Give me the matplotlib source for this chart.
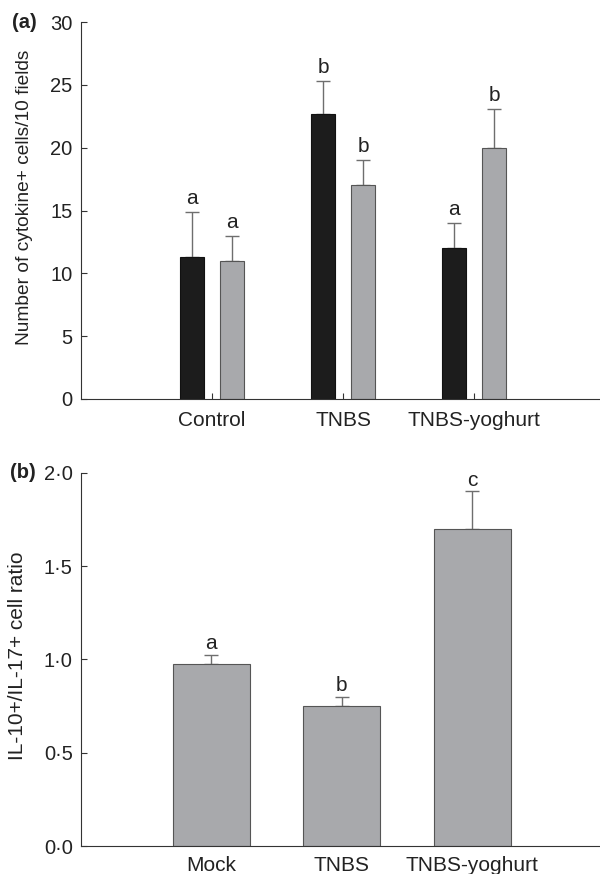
import matplotlib.pyplot as plt
import numpy as np

plt.rcParams["font.family"] = ["Liberation Sans", "DejaVu Sans"]

# panel (a)
groups_a = ["Control", "TNBS", "TNBS-yoghurt"]
dark_vals = [11.3, 22.7, 12.0]
dark_err = [3.6, 2.6, 2.0]
light_vals = [11.0, 17.0, 20.0]
light_err = [2.0, 2.0, 3.1]
dark_letters = ["a", "b", "a"]
light_letters = ["a", "b", "b"]

# panel (b)
groups_b = ["Mock", "TNBS", "TNBS-yoghurt"]
ratio_vals = [0.975, 0.75, 1.70]
ratio_err = [0.05, 0.05, 0.20]
ratio_letters = ["a", "b", "c"]

DARK = "#1c1c1c"
GREY = "#a8a9ac"
EDGE = "#555555"
ERR = "#6e6e6e"
TXT = "#222222"

fig = plt.figure(figsize=(6, 8.74), dpi=100)
ax1 = fig.add_axes([0.135, 0.5435, 0.865, 0.4313])
ax2 = fig.add_axes([0.135, 0.032, 0.865, 0.427])


def style(ax, xpad):
    ax.spines["top"].set_visible(False)
    ax.spines["right"].set_visible(False)
    ax.spines["left"].set_color("#333333")
    ax.spines["bottom"].set_color("#333333")
    ax.tick_params(axis="both", direction="in", length=4, width=0.8,
                   colors="#333333", labelcolor=TXT)
    ax.tick_params(axis="y", labelsize=14.5, pad=6)
    ax.tick_params(axis="x", labelsize=15, pad=xpad)


x = np.arange(len(groups_a))
w = 0.18
off = 0.153
ax1.bar(x - off, dark_vals, w, color=DARK, edgecolor="#111111", linewidth=0.8, zorder=2)
ax1.bar(x + off, light_vals, w, color=GREY, edgecolor=EDGE, linewidth=0.8, zorder=2)
ax1.errorbar(x - off, dark_vals, yerr=[np.zeros(3), dark_err], fmt="none",
             ecolor=ERR, elinewidth=1.0, capsize=5, capthick=1.0, zorder=1)
ax1.errorbar(x + off, light_vals, yerr=[np.zeros(3), light_err], fmt="none",
             ecolor=ERR, elinewidth=1.0, capsize=5, capthick=1.0, zorder=1)
for i in range(3):
    ax1.text(x[i] - off, dark_vals[i] + dark_err[i] + 0.3, dark_letters[i],
             ha="center", va="bottom", fontsize=15, color=TXT)
    ax1.text(x[i] + off, light_vals[i] + light_err[i] + 0.3, light_letters[i],
             ha="center", va="bottom", fontsize=15, color=TXT)
ax1.set_xlim(-1, 2.96)
ax1.set_ylim(0, 30)
ax1.set_yticks([0, 5, 10, 15, 20, 25, 30])
ax1.set_xticks(x)
ax1.set_xticklabels(groups_a)
ax1.set_ylabel("Number of cytokine+ cells/10 fields", fontsize=13.8, color=TXT)
ax1.yaxis.set_label_coords(-0.092, 0.536)
style(ax1, 9)
ax1.text(-0.132, 1.0, "(a)", transform=ax1.transAxes, fontsize=14.5, fontweight="bold",
         ha="left", va="center", color=TXT)

xb = np.arange(len(groups_b))
ax2.bar(xb, ratio_vals, 0.59, color=GREY, edgecolor=EDGE, linewidth=0.8, zorder=2)
ax2.errorbar(xb, ratio_vals, yerr=[np.zeros(3), ratio_err], fmt="none",
             ecolor=ERR, elinewidth=1.0, capsize=5, capthick=1.0, zorder=1)
for i in range(3):
    ax2.text(xb[i], ratio_vals[i] + ratio_err[i] + 0.01, ratio_letters[i],
             ha="center", va="bottom", fontsize=15, color=TXT)
ax2.set_xlim(-1, 2.98)
ax2.set_ylim(0, 2.0)
ax2.set_yticks([0, 0.5, 1.0, 1.5, 2.0])
ax2.set_yticklabels(["0·0", "0·5", "1·0", "1·5", "2·0"])
ax2.set_xticks(xb)
ax2.set_xticklabels(groups_b)
ax2.set_ylabel("IL-10+/IL-17+ cell ratio", fontsize=15, color=TXT)
ax2.yaxis.set_label_coords(-0.104, 0.51)
style(ax2, 7)
ax2.text(-0.137, 1.0, "(b)", transform=ax2.transAxes, fontsize=14.5, fontweight="bold",
         ha="left", va="center", color=TXT)

fig.savefig("out.png", dpi=100)
